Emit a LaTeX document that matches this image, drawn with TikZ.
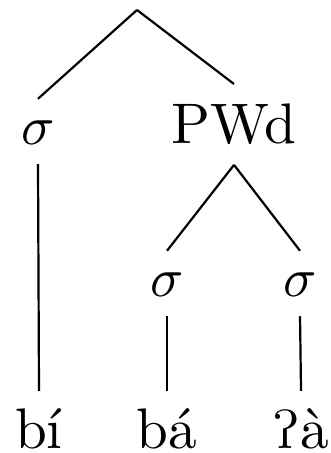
\documentclass[tikz,border=0pt]{standalone}
\usepackage{tipa}
\usepackage{tikz}

\tikzset{
  lab/.style={anchor=base, inner sep=0pt, font=\fontsize{10.4pt}{12pt}\selectfont},
  syl/.style={lab, text height=8.2pt, text depth=3.3pt},
  wrd/.style={lab, text height=10.2pt, text depth=0pt},
}

\begin{document}
\begin{tikzpicture}[x=0.1818pt, y=-0.1818pt]
\useasboundingbox (0,0) rectangle (330,453);

\coordinate (root) at (137,10);
\node[syl] (sigA) at (38,145) {$\sigma$};
\node[lab, text height=10.7pt, text depth=3.6pt] (pwd) at (234,144) {PWd};
\node[syl] (sigB) at (167,297) {$\sigma$};
\node[syl] (sigC) at (300,297) {$\sigma$};

\node[wrd] (wdA) at (39,448) {b\'{\i}};
\node[wrd] (wdB) at (167,448) {b\'a};
\node[wrd] (wdC) at (301,448) {\textglotstop\`a};

\draw (root) -- (sigA.north);
\draw (root) -- (pwd.north);
\draw (pwd.south) -- (sigB.north);
\draw (pwd.south) -- (sigC.north);

\draw (sigA.south) -- (wdA.north);
\draw (sigB.south) -- (wdB.north);
\draw (sigC.south) -- (wdC.north);
\end{tikzpicture}
\end{document}
